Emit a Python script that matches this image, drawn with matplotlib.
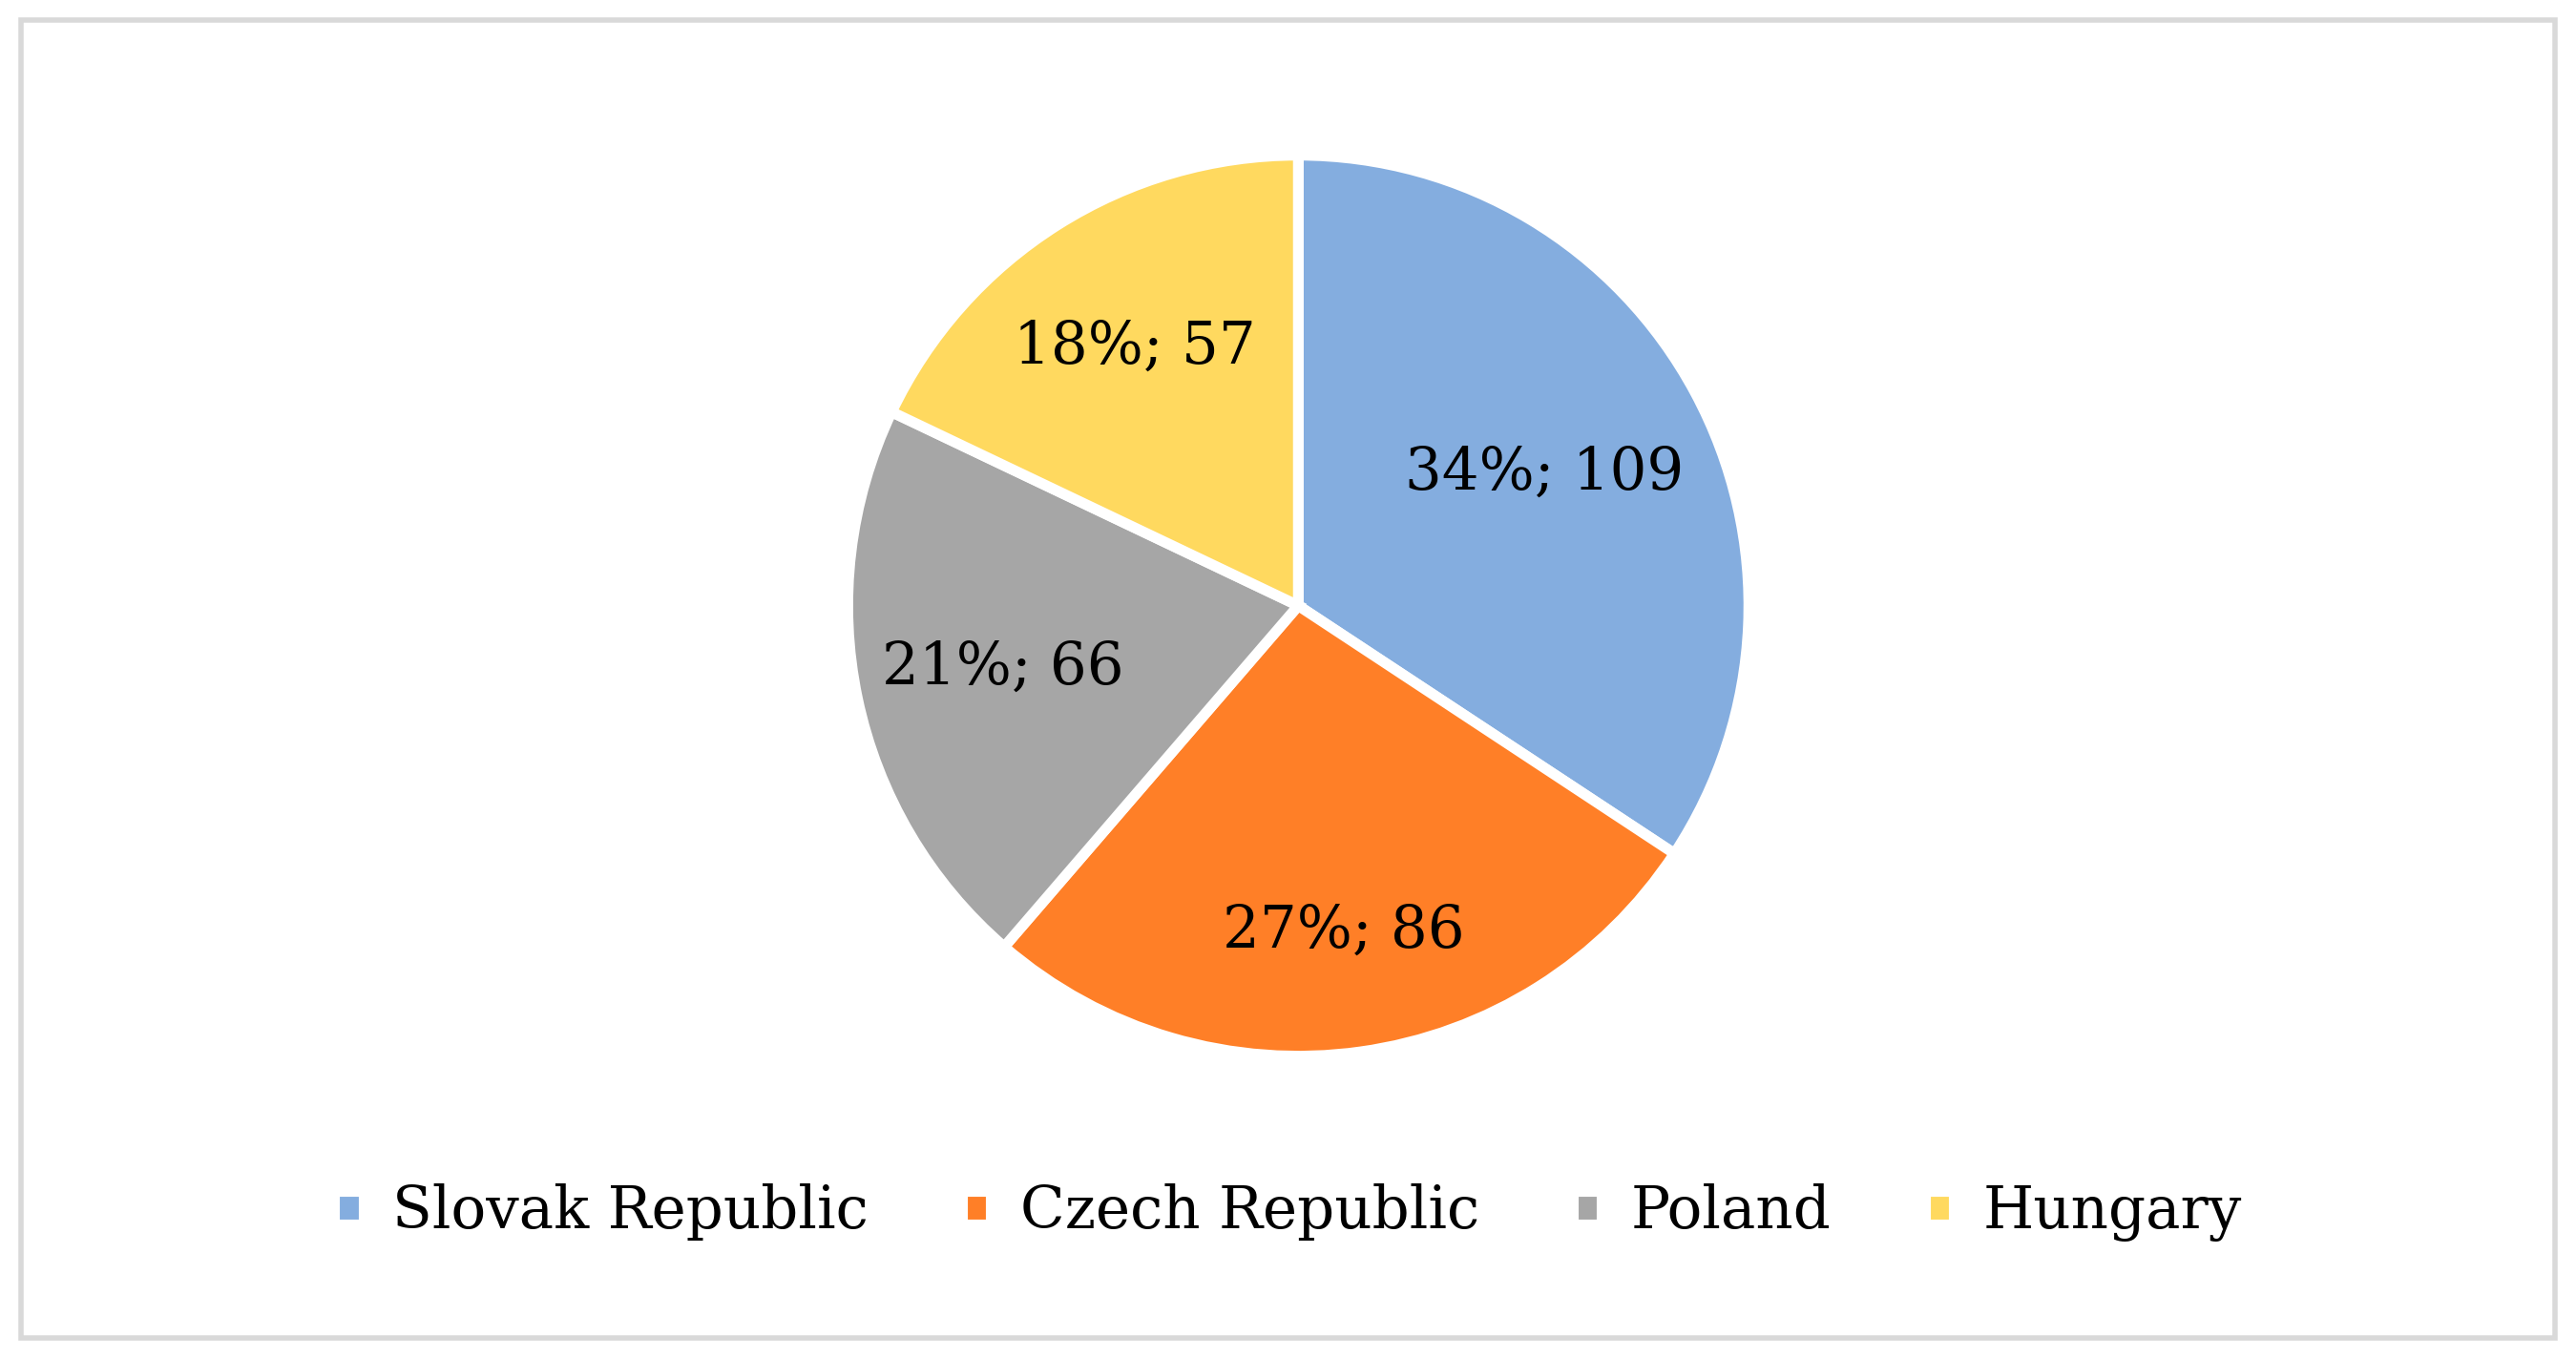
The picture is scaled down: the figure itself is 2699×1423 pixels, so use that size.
import numpy as np
import matplotlib.pyplot as plt
from matplotlib.patches import Rectangle

countries = ['Slovak Republic', 'Czech Republic', 'Poland', 'Hungary']
counts = [109, 86, 66, 57]
shares = [34, 27, 21, 18]
colors = ['#84ADDF', '#FF7F27', '#A6A6A6', '#FFD95F']

plt.rcParams['font.family'] = ['DejaVu Serif']

fig = plt.figure(figsize=(26.99, 14.23), dpi=100)
fig.patches.append(Rectangle((0.008, 0.015), 0.984, 0.97, transform=fig.transFigure,
                             fill=False, edgecolor='#D9D9D9', linewidth=4))

ax = fig.add_axes([0.504 - 0.335 * 1423 / 2699, 0.554 - 0.335, 0.67 * 1423 / 2699, 0.67])
wedges, _ = ax.pie(counts, colors=colors, startangle=90, counterclock=False,
                   wedgeprops=dict(edgecolor='white', linewidth=8))
ax.set_xlim(-1.01, 1.01)
ax.set_ylim(-1.01, 1.01)
ax.set_aspect('equal')

dists = [0.62, 0.73, 0.67, 0.68]
for w, s, c, d in zip(wedges, shares, counts, dists):
    ang = np.deg2rad((w.theta1 + w.theta2) / 2)
    ax.text(d * np.cos(ang), d * np.sin(ang), f'{s}%; {c}', ha='center', va='center',
            fontsize=44)

fig.legend(wedges, countries, loc='center', bbox_to_anchor=(0.5, 0.107), ncol=4,
           frameon=False, fontsize=44, handlelength=0.5, handleheight=0.5,
           columnspacing=1.6, handletextpad=0.5)

fig.savefig('out.png', dpi=100)
